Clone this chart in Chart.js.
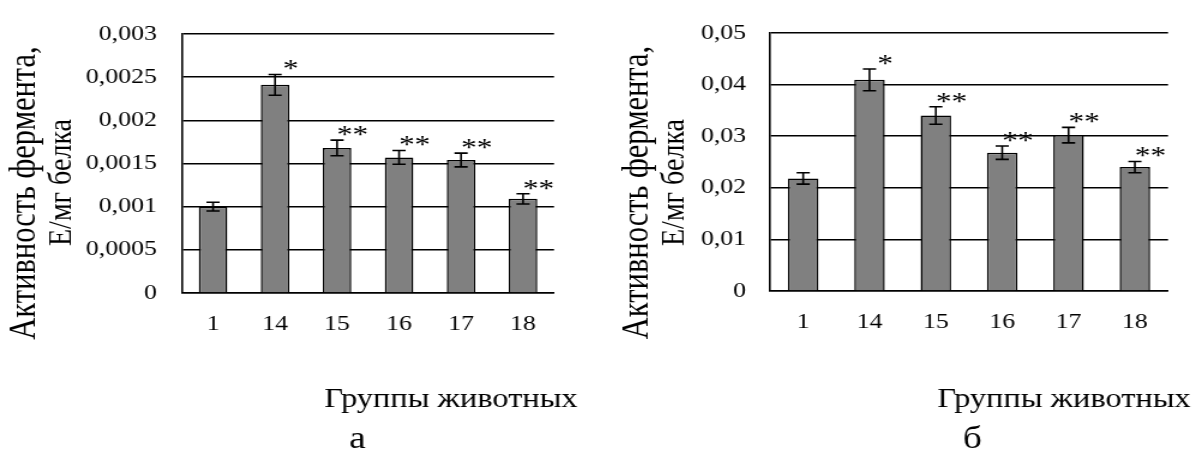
<!DOCTYPE html>
<html><head><meta charset="utf-8">
<script src="https://cdn.jsdelivr.net/npm/chart.js@4.4.1/dist/chart.umd.min.js"></script>
<style>
html,body{margin:0;padding:0;background:#fff;width:1194px;height:450px;overflow:hidden;}
.wrap{position:absolute;top:0;transform-origin:0 0;transform:scaleX(1.2);}
canvas{display:block;}
</style></head><body>
<div class="wrap" style="left:0px"><canvas id="ca" width="492" height="450"></canvas></div>
<div class="wrap" style="left:590px"><canvas id="cb" width="503" height="450"></canvas></div>
<script>
const groups = ["1", "14", "15", "16", "17", "18"];
const valuesA = [0.00100, 0.00241, 0.00168, 0.00157, 0.00154, 0.00109];
const errorsA = [0.00005, 0.00012, 0.00009, 0.00008, 0.00008, 0.00006];
const marksA = ["", "*", "**", "**", "**", "**"];
const yTicksA = ["0", "0,0005", "0,001", "0,0015", "0,002", "0,0025", "0,003"];
const valuesB = [0.0218, 0.0409, 0.0340, 0.0268, 0.0302, 0.0240];
const errorsB = [0.0011, 0.0021, 0.0017, 0.0013, 0.0015, 0.0011];
const marksB = ["", "*", "**", "**", "**", "**"];
const yTicksB = ["0", "0,01", "0,02", "0,03", "0,04", "0,05"];
const yTitleLines = ["Активность фермента,", "Е/мг белка"];
const xTitle = "Группы животных";
const captions = ["а", "б"];

const SERIF = '"Liberation Serif", "Times New Roman", serif';
const Y_TITLE_SIZES = [30.5, 28];

function makeChart(canvasId, cfg) {
  const W = cfg.width, H = 450;
  const plugin = {
    id: 'extras',
    afterDatasetsDraw(chart) {
      const ctx = chart.ctx;
      const meta = chart.getDatasetMeta(0);
      const y = chart.scales.y;
      ctx.save();
      ctx.strokeStyle = '#000';
      ctx.lineWidth = 1.6;
      ctx.fillStyle = '#000';
      meta.data.forEach((bar, i) => {
        const v = cfg.values[i], e = cfg.errors[i];
        const yt = y.getPixelForValue(v + e);
        const yb = y.getPixelForValue(v - e);
        const x = bar.x;
        ctx.beginPath();
        ctx.moveTo(x, yt); ctx.lineTo(x, yb);
        ctx.moveTo(x - 5.5, yt); ctx.lineTo(x + 5.5, yt);
        ctx.moveTo(x - 5.5, yb); ctx.lineTo(x + 5.5, yb);
        ctx.stroke();
        if (cfg.marks[i]) {
          ctx.font = '26px ' + SERIF;
          ctx.textAlign = 'center';
          ctx.textBaseline = 'alphabetic';
          ctx.fillText(cfg.marks[i], x + 13, yt + 3);
        }
      });
      ctx.restore();
    },
    afterDraw(chart) {
      const ctx = chart.ctx;
      ctx.save();
      ctx.fillStyle = '#000';
      ctx.textAlign = 'center';
      ctx.textBaseline = 'middle';
      cfg.yTitle.forEach((line, k) => {
        ctx.save();
        ctx.font = Y_TITLE_SIZES[k] + 'px ' + SERIF;
        ctx.translate(cfg.yTitlePos[k][0], cfg.yTitlePos[k][1]);
        ctx.rotate(-Math.PI / 2);
        ctx.fillText(line, 0, 0);
        ctx.restore();
      });
      ctx.textBaseline = 'alphabetic';
      ctx.font = '27px ' + SERIF;
      ctx.fillText(cfg.xTitle, cfg.xTitlePos[0], cfg.xTitlePos[1]);
      ctx.font = '31px ' + SERIF;
      ctx.fillText(cfg.caption, cfg.captionPos[0], cfg.captionPos[1]);
      ctx.restore();
    }
  };
  return new Chart(document.getElementById(canvasId), {
    type: 'bar',
    data: {
      labels: groups,
      datasets: [{
        data: cfg.values,
        backgroundColor: '#808080',
        borderColor: '#000',
        borderWidth: 1.5,
        barPercentage: 0.46,
        categoryPercentage: 1.0
      }]
    },
    options: {
      responsive: false,
      animation: false,
      devicePixelRatio: 1,
      layout: { padding: { left: 0, top: cfg.top, right: W - cfg.right, bottom: 0 } },
      plugins: { legend: { display: false }, tooltip: { enabled: false }, title: { display: false } },
      scales: {
        x: {
          grid: { display: false, drawTicks: false },
          border: { display: true, color: '#000', width: 1.6 },
          ticks: { color: '#000', font: { family: SERIF, size: 21.5 }, padding: 18, maxRotation: 0 },
          afterFit(scale) { scale.height = H - cfg.bottom; }
        },
        y: {
          min: 0, max: cfg.max,
          grid: { color: '#000', lineWidth: 1.5, drawTicks: false },
          border: { display: true, color: '#000', width: 1.6 },
          ticks: {
            stepSize: cfg.step,
            color: '#000',
            font: { family: SERIF, size: 21.5 },
            padding: cfg.tickPad,
            callback: (val, idx) => cfg.yTicks[idx]
          },
          afterFit(scale) { scale.width = cfg.left; }
        }
      }
    },
    plugins: [plugin]
  });
}

makeChart('ca', {
  width: 492, left: 151.7, right: 461.7, top: 29, bottom: 293,
  max: 0.003, step: 0.0005, tickPad: 21,
  values: valuesA, errors: errorsA, marks: marksA, yTicks: yTicksA,
  yTitle: yTitleLines, yTitlePos: [[20.8, 193], [51.7, 182.5]],
  xTitle: xTitle, xTitlePos: [375.8, 407],
  caption: captions[0], captionPos: [297.9, 448]
});
makeChart('cb', {
  width: 503, left: 150, right: 481.7, top: 29.5, bottom: 291,
  max: 0.05, step: 0.01, tickPad: 20,
  values: valuesB, errors: errorsB, marks: marksB, yTicks: yTicksB,
  yTitle: yTitleLines, yTitlePos: [[40, 192.5], [70.8, 182.5]],
  xTitle: xTitle, xTitlePos: [395, 407],
  caption: captions[1], captionPos: [318.75, 448]
});
</script>
</body></html>
